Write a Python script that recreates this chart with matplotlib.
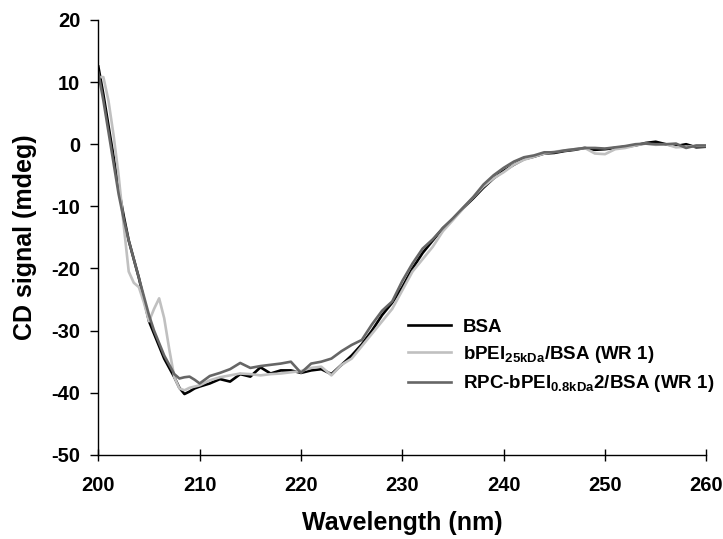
import numpy as np
import matplotlib
matplotlib.use('Agg')
import matplotlib.pyplot as plt

# Fonts: bold Arial-like look everywhere, bold mathtext for the subscripts
plt.rcParams['font.family'] = ['Liberation Sans', 'DejaVu Sans']
plt.rcParams['font.weight'] = 'bold'
plt.rcParams['axes.unicode_minus'] = False  # plain hyphen like the original
plt.rcParams['mathtext.fontset'] = 'custom'
plt.rcParams['mathtext.bf'] = 'Liberation Sans:bold'
plt.rcParams['mathtext.rm'] = 'Liberation Sans:bold'
plt.rcParams['mathtext.default'] = 'bf'

# Wavelength grid (nm): half steps where the curves change fast
wavelength = [200, 200.5, 201, 201.5, 202, 202.5, 203, 203.5, 204, 204.5,
              205, 205.5, 206, 206.5, 207, 207.5, 208, 208.5, 209, 209.5,
              210, 211, 212, 213, 214, 215, 216, 217, 218, 219,
              220, 221, 222, 223, 224, 225, 226, 227, 228, 229,
              230, 231, 232, 233, 234, 235, 236, 237, 238, 239,
              240, 241, 242, 243, 244, 245, 246, 247, 248, 249,
              250, 251, 252, 253, 254, 255, 256, 257, 258, 259, 260]

# CD signal (mdeg)
bsa = [12.5, 8.0, 3.0, -2.0, -7.0, -11.5, -15.5, -18.5, -21.5, -25.0,
       -28.5, -30.5, -32.5, -34.5, -36.0, -37.5, -39.2, -40.2, -39.8, -39.3,
       -39.0, -38.5, -37.8, -38.2, -37.0, -37.4, -35.9, -36.9, -36.4, -36.4,
       -36.8, -36.4, -36.2, -37.0, -35.5, -34.0, -32.2, -30.0, -27.5, -25.5,
       -23.0, -20.0, -17.5, -15.5, -13.5, -12.0, -10.3, -8.7, -7.0, -5.5,
       -4.3, -3.3, -2.4, -2.0, -1.5, -1.4, -1.1, -0.9, -0.6, -0.9,
       -0.8, -0.6, -0.4, -0.2, 0.2, 0.4, 0.0, -0.3, 0.0, -0.5, -0.4]

bpei25 = [10.8, 10.8, 7.0, 1.5, -5.0, -13.0, -20.5, -22.3, -23.0, -25.5,
          -28.5, -26.5, -24.8, -28.0, -33.0, -37.5, -39.3, -39.6, -39.2, -39.0,
          -38.8, -38.0, -37.5, -37.2, -36.9, -37.0, -37.2, -37.0, -36.9, -36.7,
          -36.5, -36.0, -35.8, -37.2, -35.5, -34.5, -32.5, -30.5, -28.5, -26.5,
          -23.5, -20.5, -18.5, -16.5, -14.0, -12.2, -10.3, -8.5, -6.8, -5.5,
          -4.5, -3.3, -2.5, -2.0, -1.5, -1.2, -1.0, -0.8, -0.6, -1.5,
          -1.6, -0.8, -0.6, -0.2, 0.1, -0.1, 0.0, -0.5, -0.4, -0.3, -0.3]

rpc = [11.5, 7.0, 2.0, -3.0, -8.0, -12.0, -15.5, -18.5, -21.5, -24.5,
       -27.5, -30.0, -32.0, -34.0, -35.5, -37.0, -37.7, -37.5, -37.4, -37.9,
       -38.5, -37.3, -36.8, -36.2, -35.2, -36.0, -35.7, -35.5, -35.3, -35.0,
       -36.8, -35.3, -35.0, -34.5, -33.3, -32.3, -31.5, -29.0, -26.8, -25.3,
       -22.0, -19.2, -16.8, -15.3, -13.5, -11.9, -10.2, -8.5, -6.5, -5.0,
       -3.8, -2.8, -2.1, -1.8, -1.3, -1.3, -1.0, -0.8, -0.6, -0.6,
       -0.7, -0.5, -0.3, 0.0, 0.1, 0.0, 0.0, 0.1, -0.6, -0.2, -0.2]

labels = ['BSA',
          r'bPEI$_{25kDa}$/BSA (WR 1)',
          r'RPC-bPEI$_{0.8kDa}$2/BSA (WR 1)']
colors = ['#000000', '#c0c0c0', '#666666']

fig = plt.figure(figsize=(7.23, 5.39), dpi=100)
ax = fig.add_axes([0.136, 0.156, 0.841, 0.807])

for series, lab, col in zip([bsa, bpei25, rpc], labels, colors):
    ax.plot(wavelength, series, color=col, linewidth=1.9, label=lab)

ax.set_xlim(200, 260)
ax.set_ylim(-50, 20)
ax.set_xticks(np.arange(200, 261, 10))
ax.set_yticks(np.arange(-50, 21, 10))

ax.spines['top'].set_visible(False)
ax.spines['right'].set_visible(False)
ax.spines['left'].set_linewidth(1.0)
ax.spines['bottom'].set_linewidth(1.0)
ax.tick_params(axis='x', direction='inout', length=8, width=1.0, pad=11, labelsize=14.5)
ax.tick_params(axis='y', direction='out', length=6, width=1.0, pad=7, labelsize=14.5)
for lbl in ax.get_xticklabels() + ax.get_yticklabels():
    lbl.set_fontweight('bold')

ax.set_xlabel('Wavelength (nm)', fontsize=18, fontweight='bold', labelpad=12)
ax.set_ylabel('CD signal (mdeg)', fontsize=18, fontweight='bold', labelpad=10)

leg = ax.legend(loc='upper left', bbox_to_anchor=(0.485, 0.348), frameon=False,
                fontsize=13.5, handlelength=2.3, handletextpad=0.6,
                labelspacing=0.44, borderpad=0.3)
for t in leg.get_texts():
    t.set_fontweight('bold')

fig.savefig('out.png', dpi=100)
